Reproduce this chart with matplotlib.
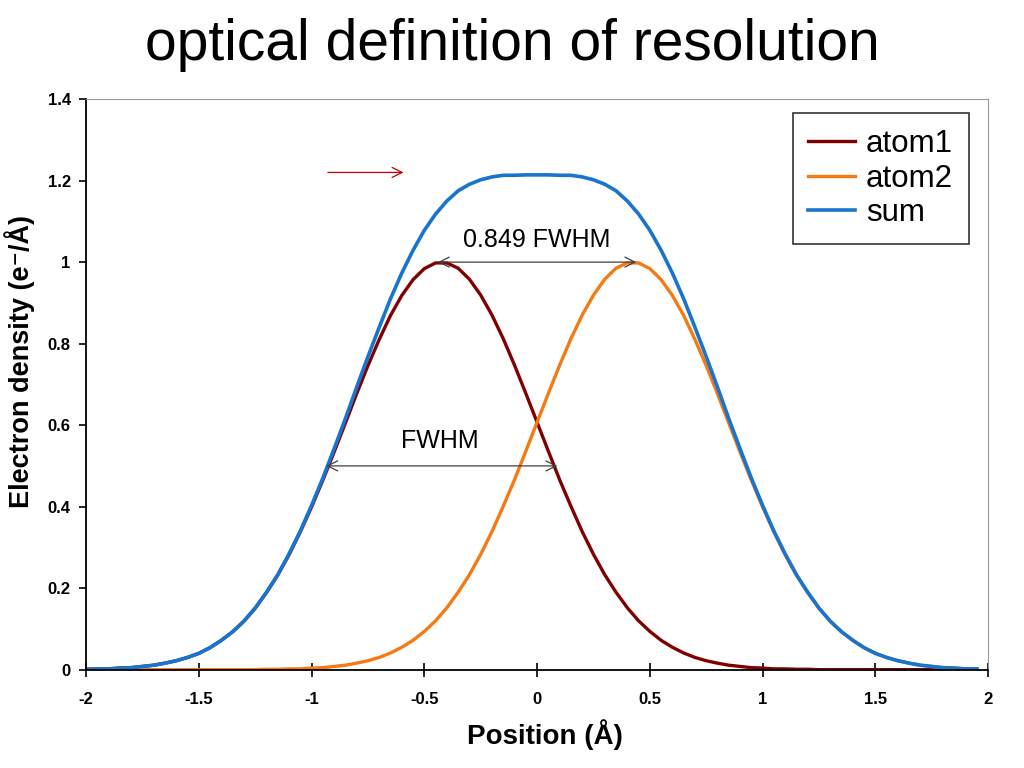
import numpy as np
import matplotlib
matplotlib.use("Agg")
import matplotlib.pyplot as plt

plt.rcParams["font.family"] = ["Liberation Sans", "DejaVu Sans"]

# position grid (Angstrom), step 0.05
pos = [round(-2.0 + 0.05 * i, 2) for i in range(80)]

atom1 = [0.001, 0.002, 0.002, 0.004, 0.005, 0.008, 0.011, 0.016, 0.022, 0.030,
         0.040, 0.054, 0.072, 0.093, 0.119, 0.151, 0.189, 0.232, 0.282, 0.338,
         0.399, 0.465, 0.534, 0.605, 0.677, 0.746, 0.810, 0.869, 0.918, 0.957,
         0.984, 0.998, 0.998, 0.985, 0.958, 0.919, 0.870, 0.812, 0.747, 0.678,
         0.607, 0.536, 0.466, 0.401, 0.339, 0.283, 0.233, 0.190, 0.152, 0.120,
         0.094, 0.072, 0.055, 0.041, 0.030, 0.022, 0.016, 0.011, 0.008, 0.005,
         0.004, 0.002, 0.002, 0.001, 0.001, 0.000, 0.000, 0.000, 0.000, 0.000,
         0.000, 0.000, 0.000, 0.000, 0.000, 0.000, 0.000, 0.000, 0.000, 0.000]

atom2 = [0.000, 0.000, 0.000, 0.000, 0.000, 0.000, 0.000, 0.000, 0.000, 0.000,
         0.000, 0.000, 0.000, 0.000, 0.000, 0.000, 0.001, 0.001, 0.002, 0.002,
         0.004, 0.005, 0.008, 0.011, 0.016, 0.022, 0.030, 0.041, 0.055, 0.072,
         0.094, 0.120, 0.152, 0.190, 0.233, 0.283, 0.339, 0.401, 0.466, 0.536,
         0.607, 0.678, 0.747, 0.812, 0.870, 0.919, 0.958, 0.985, 0.998, 0.998,
         0.984, 0.957, 0.918, 0.869, 0.810, 0.746, 0.677, 0.605, 0.534, 0.465,
         0.399, 0.338, 0.282, 0.232, 0.189, 0.151, 0.119, 0.093, 0.072, 0.054,
         0.040, 0.030, 0.022, 0.016, 0.011, 0.008, 0.005, 0.004, 0.002, 0.002]

total = list(np.array(atom1) + np.array(atom2))

xticks = [-2, -1.5, -1, -0.5, 0, 0.5, 1, 1.5, 2]
xticklabels = ["-2", "-1.5", "-1", "-0.5", "0", "0.5", "1", "1.5", "2"]
yticks = [0, 0.2, 0.4, 0.6, 0.8, 1, 1.2, 1.4]
yticklabels = ["0", "0.2", "0.4", "0.6", "0.8", "1", "1.2", "1.4"]

#
fig = plt.figure(figsize=(10.24, 7.68), dpi=100)
ax = fig.add_axes([0.084, 0.128, 0.881, 0.743])

ax.plot(pos, atom1, color="#800000", lw=2.4, label="atom1")
ax.plot(pos, atom2, color="#F57A14", lw=2.4, label="atom2")
ax.plot(pos, total, color="#1874CD", lw=2.6, label="sum")

# annotations
ax.annotate("", xy=(-0.58, 1.22), xytext=(-0.94, 1.22),
            arrowprops=dict(arrowstyle="->", color="#C00000", lw=0.9, mutation_scale=18))
ax.annotate("", xy=(-0.44, 1.0), xytext=(0.44, 1.0),
            arrowprops=dict(arrowstyle="<->", color="#404040", lw=0.9, mutation_scale=18,
                            shrinkA=0, shrinkB=0))
ax.text(0.0, 1.055, "0.849 FWHM", ha="center", va="center", fontsize=18)
ax.annotate("", xy=(-0.935, 0.5), xytext=(0.09, 0.5),
            arrowprops=dict(arrowstyle="<->", color="#404040", lw=0.9, mutation_scale=18,
                            shrinkA=0, shrinkB=0))
ax.text(-0.43, 0.56, "FWHM", ha="center", va="center", fontsize=18)

ax.set_xlim(-2, 2)
ax.set_ylim(0, 1.4)
ax.set_xticks(xticks)
ax.set_xticklabels(xticklabels, fontweight="bold", fontsize=12)
ax.set_yticks(yticks)
ax.set_yticklabels(yticklabels, fontweight="bold", fontsize=12)
ax.tick_params(axis="x", direction="inout", length=10, width=1.2, pad=11)
ax.tick_params(axis="y", direction="out", length=5, width=1.2, pad=6)
for s in ["top", "right"]:
    ax.spines[s].set_color("#999999")
for s in ["left", "bottom"]:
    ax.spines[s].set_linewidth(1.3)

ax.set_xlabel("Position (Å)", fontsize=20, fontweight="bold")
ax.xaxis.set_label_coords(0.509, -0.087)
ax.set_ylabel("Electron density (e\u207b/Å)", fontsize=19.5, fontweight="bold")
ax.yaxis.set_label_coords(-0.056, 0.54)

leg = ax.legend(loc="upper right", bbox_to_anchor=(0.9785, 0.975), fontsize=22.5,
                frameon=True, fancybox=False, edgecolor="black", handlelength=1.5,
                handletextpad=0.35, labelspacing=0.15, borderpad=0.5, borderaxespad=0)
leg.get_frame().set_linewidth(1.2)

fig.text(0.5, 0.942, "optical definition of resolution", ha="center", va="center", fontsize=41)

plt.savefig("out.png", dpi=100)
